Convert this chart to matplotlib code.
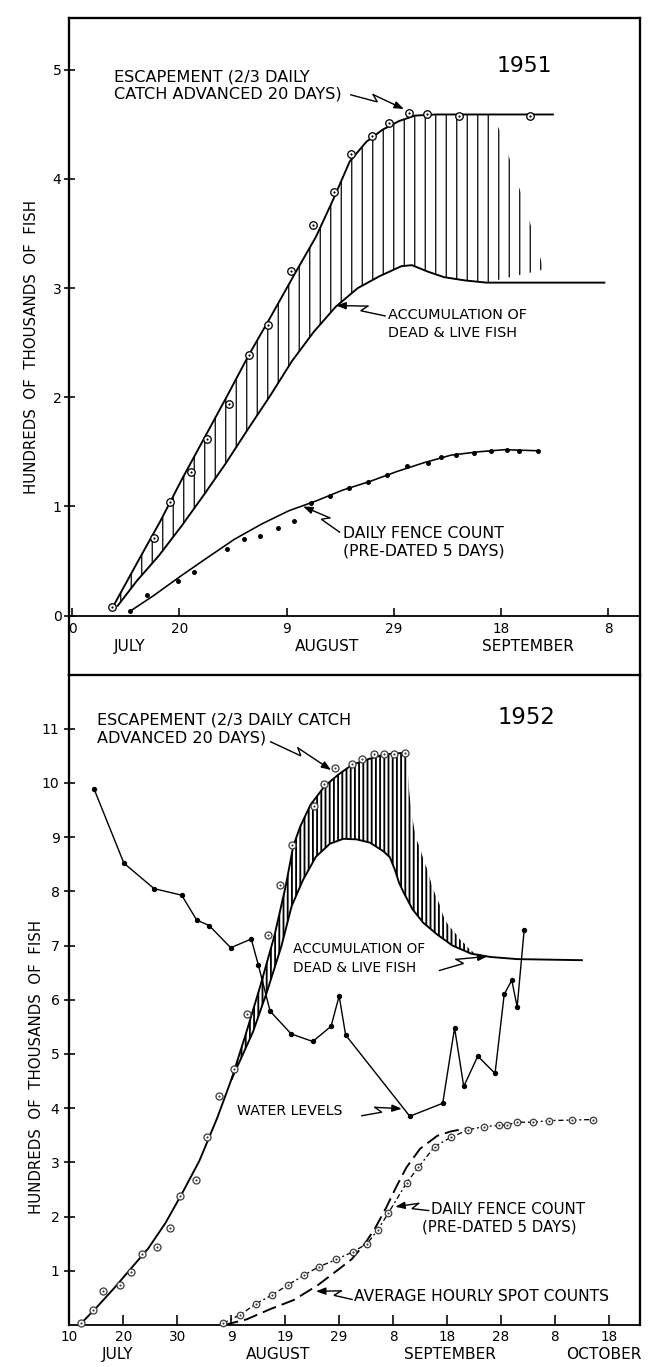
import numpy as np
import matplotlib
matplotlib.use("Agg")
import matplotlib.pyplot as plt
from matplotlib.patches import Polygon
from matplotlib.transforms import IdentityTransform

DPI = 126
W, H = 649, 1367


def pt(px):
    # pixel length -> points at the output resolution
    return px * 72.0 / DPI


plt.rcParams['font.family'] = ['DejaVu Sans']
plt.rcParams['hatch.color'] = 'black'

# All dates are days counted from 30 June.

# 1. Data - 1951
esc51_days = [7.5, 12.2, 16.4, 20.5, 24.7, 28.9, 33.0, 37.2, 41.3, 45.5, 48.7, 51.8,
              54.9, 57.9, 61.0, 64.0, 68.0, 89.7]
esc51_vals = [0.07, 0.49, 0.86, 1.25, 1.63, 2.01, 2.39, 2.75, 3.11, 3.47, 3.81, 4.16,
              4.34, 4.45, 4.53, 4.58, 4.59, 4.59]
esc51_obs_days = [7.5, 15.2, 18.2, 22.2, 25.2, 29.2, 33.0, 36.6, 40.8, 44.9, 48.8, 52.1,
                  55.9, 59.2, 62.9, 66.2, 72.2, 85.4]
esc51_obs_vals = [0.08, 0.71, 1.04, 1.32, 1.62, 1.94, 2.39, 2.66, 3.16, 3.58, 3.88, 4.23,
                  4.39, 4.51, 4.60, 4.59, 4.58, 4.58]
acc51_days = [8.5, 12.1, 16.2, 20.4, 24.5, 28.6, 32.7, 36.9, 41.0, 45.1, 49.2, 53.3,
              57.4, 61.4, 63.4, 66.4, 69.4, 73.3, 77.3, 99.3]
acc51_vals = [0.09, 0.32, 0.55, 0.82, 1.10, 1.39, 1.70, 2.01, 2.33, 2.60, 2.83, 3.00,
              3.11, 3.20, 3.21, 3.15, 3.10, 3.07, 3.05, 3.05]
tail51_days = [78.4, 80.3, 82.3, 84.3, 86.2, 88.0]
tail51_vals = [4.59, 4.39, 4.08, 3.79, 3.47, 3.17]
fence51_days = [10.8, 15.1, 20.2, 25.2, 30.3, 35.4, 40.4, 45.5, 50.5, 55.6, 60.6, 65.6,
                70.7, 75.7, 80.7, 87.0]
fence51_vals = [0.04, 0.18, 0.36, 0.53, 0.70, 0.84, 0.96, 1.05, 1.15, 1.23, 1.32, 1.40,
                1.47, 1.50, 1.52, 1.51]
fence51_obs_days = [10.8, 14.0, 19.8, 22.8, 28.9, 32.0, 35.1, 38.4, 41.4, 44.6, 48.2, 51.7,
                    55.2, 58.8, 62.4, 66.4, 68.8, 71.6, 75.0, 78.2, 81.1, 83.4, 87.0]
fence51_obs_vals = [0.04, 0.19, 0.32, 0.40, 0.61, 0.70, 0.73, 0.80, 0.87, 1.03, 1.10, 1.17,
                    1.22, 1.29, 1.37, 1.40, 1.45, 1.47, 1.49, 1.51, 1.52, 1.51, 1.51]

x51_ticks = [0, 20, 40, 60, 80, 100]
x51_labels = ['0', '20', '9', '29', '18', '8']
months51 = ['JULY', 'AUGUST', 'SEPTEMBER']
months51_at = [10.7, 47.5, 85.0]

# 2. Data - 1952
esc52_days = [11.9, 15.1, 18.3, 21.4, 24.6, 27.8, 30.9, 34.1, 37.4, 40.1, 42.8, 45.4,
              48.0, 50.1, 51.5, 52.8, 54.7, 57.3, 59.8, 62.3, 65.4, 68.5, 72.5]
esc52_vals = [0.0, 0.33, 0.68, 1.04, 1.41, 1.88, 2.43, 3.03, 3.82, 4.55, 5.40, 6.26,
              7.18, 8.10, 8.84, 9.20, 9.60, 9.94, 10.15, 10.33, 10.44, 10.53, 10.56]
esc52_obs_days = [12.2, 14.3, 16.3, 19.4, 21.4, 23.5, 26.3, 28.6, 30.5, 33.5, 35.5, 37.7,
                  40.6, 42.9, 46.9, 49.1, 51.2, 55.3, 57.2, 59.2, 62.4, 64.3, 66.4, 68.3,
                  70.2, 72.2]
esc52_obs_vals = [0.04, 0.28, 0.62, 0.74, 0.97, 1.30, 1.43, 1.78, 2.37, 2.68, 3.46, 4.22,
                  4.73, 5.74, 7.20, 8.12, 8.85, 9.57, 9.98, 10.28, 10.35, 10.45, 10.54, 10.53,
                  10.54, 10.55]
acc52_days = [40.1, 44.0, 46.6, 49.3, 51.2, 53.3, 55.7, 58.3, 60.8, 63.2, 65.7, 68.2,
              69.4, 70.4, 71.1, 72.0, 73.6, 75.6, 78.1, 81.0, 84.5, 88.0, 93.0, 105.0]
acc52_vals = [4.54, 5.40, 6.14, 6.99, 7.73, 8.21, 8.64, 8.88, 8.97, 8.96, 8.90, 8.74,
              8.63, 8.38, 8.16, 7.97, 7.67, 7.42, 7.21, 7.00, 6.85, 6.79, 6.75, 6.73]
tail52_days = [72.5, 73.0, 73.5, 74.2, 75.0, 75.7, 76.4, 77.1, 77.9, 78.7, 79.3, 80.1,
               80.9, 81.7, 82.3, 83.1, 83.8, 84.7, 85.4]
tail52_vals = [10.56, 9.83, 9.40, 9.00, 8.79, 8.57, 8.39, 8.14, 7.92, 7.74, 7.55, 7.40,
               7.30, 7.21, 7.12, 7.05, 6.97, 6.89, 6.85]
water52_days = [14.6, 20.1, 25.7, 30.8, 33.6, 35.9, 39.9, 43.7, 45.0, 47.2, 51.1, 55.1,
                58.5, 60.0, 61.2, 73.1, 79.2, 81.4, 83.1, 85.7, 88.9, 90.6, 92.0, 93.0, 94.3]
water52_vals = [9.88, 8.52, 8.05, 7.93, 7.47, 7.37, 6.96, 7.12, 6.65, 5.79, 5.37, 5.23,
                5.51, 6.07, 5.35, 3.85, 4.09, 5.48, 4.40, 4.96, 4.64, 6.10, 6.36, 5.87, 7.29]
fence52_days = [38.5, 41.7, 44.6, 47.5, 50.6, 53.5, 56.2, 59.5, 62.6, 65.2, 67.2, 69.1,
                72.5, 74.7, 77.7, 80.7, 83.9, 86.9, 89.6, 91.2, 92.9, 96.0, 98.9, 103.1, 107.1]
fence52_vals = [0.03, 0.19, 0.39, 0.55, 0.74, 0.92, 1.07, 1.21, 1.35, 1.50, 1.76, 2.06,
                2.62, 2.91, 3.29, 3.46, 3.60, 3.66, 3.68, 3.69, 3.74, 3.74, 3.77, 3.78, 3.79]
spot52_days = [38.7, 42.8, 47.2, 51.6, 56.0, 59.7, 62.3, 64.7, 66.7, 68.7, 70.6, 72.5,
               75.0, 78.2, 80.7, 83.8]
spot52_vals = [0.0, 0.10, 0.29, 0.46, 0.73, 1.01, 1.21, 1.49, 1.79, 2.16, 2.55, 2.91,
               3.25, 3.49, 3.57, 3.63]

x52_ticks = [10, 20, 30, 40, 50, 60, 70, 80, 90, 100, 110]
x52_labels = ['10', '20', '30', '9', '19', '29', '8', '18', '28', '8', '18']
months52 = ['JULY', 'AUGUST', 'SEPTEMBER', 'OCTOBER']
months52_at = [19.0, 48.7, 80.6, 109.1]

YLABEL = 'HUNDREDS  OF  THOUSANDS  OF  FISH'


# 3. Helpers
def box(left, top, right, bottom):
    return [left / W, 1 - bottom / H, (right - left) / W, (bottom - top) / H]


def shade(ax, up_d, up_v, tail_d, tail_v, lo_d, lo_v, hatch, hlw):
    # hatched band between the escapement and the accumulation curves
    top = [(d, v) for d, v in zip(up_d, up_v) if lo_d[0] - 1.5 <= d < tail_d[0]]
    top += list(zip(tail_d, tail_v))
    bot = [(d, v) for d, v in zip(lo_d, lo_v) if d <= tail_d[-1]]
    with plt.rc_context({'hatch.linewidth': hlw}):
        poly = Polygon(top + bot[::-1], closed=True, facecolor='none',
                       edgecolor='k', lw=0, hatch=hatch, zorder=1)
    if hasattr(poly, 'set_hatch_linewidth'):
        poly.set_hatch_linewidth(hlw)
    ax.add_patch(poly)


def bolt(ax, start, end, back=6.0, lift=6.0):
    # "Z" kinked pointer ending in an arrow head
    p0 = ax.transData.transform(start)
    p3 = ax.transData.transform(end)
    d = p3 - p0
    length = np.hypot(d[0], d[1])
    u = d / length
    n = np.array([-u[1], u[0]])
    if n[1] < 0:
        n = -n
    p1 = p0 + u * length * 0.5
    p2 = p1 - u * back + n * lift
    ax.plot([p0[0], p1[0], p2[0]], [p0[1], p1[1], p2[1]], color='k', lw=pt(1.4),
            transform=IdentityTransform(), clip_on=False, solid_joinstyle='miter')
    ax.annotate('', xy=p3, xytext=p2, xycoords='figure pixels', textcoords='figure pixels',
                arrowprops=dict(arrowstyle='-|>,head_length=0.45,head_width=0.17',
                                color='k', lw=pt(1.4), shrinkA=0, shrinkB=0,
                                mutation_scale=10))


def circles(ax, x, y, size, edge):
    ax.plot(x, y, ls='none', marker='o', ms=pt(size), mfc='white', mec=edge,
            mew=pt(1.3), zorder=4, clip_on=False)
    ax.plot(x, y, ls='none', marker='o', ms=pt(2.2), color=edge, mew=0, zorder=5,
            clip_on=False)


# 4. Figure and panels
fig = plt.figure(figsize=(W / DPI, H / DPI), dpi=DPI)
fig.patch.set_facecolor('white')

ax1 = fig.add_axes(box(69, 18.4, 639.5, 674.6))
ax2 = fig.add_axes(box(69, 674.6, 639.5, 1324.9))
ax1.set_xlim(-0.58, 105.86)
ax1.set_ylim(-0.54, 5.47)
ax2.set_xlim(9.92, 115.68)
ax2.set_ylim(0, 12.0)

for ax in (ax1, ax2):
    for s in ax.spines.values():
        s.set_linewidth(pt(2.3))
    ax.set_facecolor('none')
ax1.spines['bottom'].set_position(('data', 0))
ax1.spines['bottom'].set_linewidth(pt(1.8))
ax2.spines['bottom'].set_linewidth(pt(1.8))

# 5. 1951 panel
shade(ax1, esc51_days, esc51_vals, tail51_days, tail51_vals,
      acc51_days, acc51_vals, '||', 0.7)
ax1.plot(esc51_days, esc51_vals, color='k', lw=pt(1.9), zorder=3)
ax1.plot(acc51_days, acc51_vals, color='k', lw=pt(1.9), zorder=3)
circles(ax1, esc51_obs_days, esc51_obs_vals, 7.5, 'k')
ax1.plot(fence51_days, fence51_vals, color='k', lw=pt(1.6), zorder=3)
ax1.plot(fence51_obs_days, fence51_obs_vals, ls='none', marker='o', ms=pt(3.2),
         color='k', zorder=4)

ax1.set_xticks(x51_ticks, x51_labels)
ax1.set_yticks(range(6))
ax1.tick_params(axis='x', direction='in', length=pt(8), width=pt(1.6), pad=pt(6),
                labelsize=7.8)
ax1.tick_params(axis='y', direction='inout', length=pt(11), width=pt(1.6), pad=pt(2),
                labelsize=8)
for name, d in zip(months51, months51_at):
    ax1.text(d, -0.287, name, ha='center', va='center', fontsize=8.8)

ax1.text(84.3, 5.03, '1951', ha='center', va='center', fontsize=12.5)
ax1.text(7.8, 4.855, 'ESCAPEMENT (2/3 DAILY\nCATCH ADVANCED 20 DAYS)', ha='left',
         va='center', fontsize=9.2, linespacing=1.2)
bolt(ax1, (52.0, 4.77), (61.9, 4.64))
ax1.text(58.9, 2.67, 'ACCUMULATION OF\nDEAD & LIVE FISH', ha='left', va='center',
         fontsize=8.2, linespacing=1.4)
bolt(ax1, (58.4, 2.745), (49.3, 2.84))
ax1.text(50.5, 0.67, 'DAILY FENCE COUNT\n(PRE-DATED 5 DAYS)', ha='left', va='center',
         fontsize=9.0, linespacing=1.2)
bolt(ax1, (49.9, 0.765), (43.1, 1.0))

# 6. 1952 panel
shade(ax2, esc52_days, esc52_vals, tail52_days, tail52_vals,
      acc52_days, acc52_vals, '|||||', 1.05)
ax2.plot(esc52_days, esc52_vals, color='k', lw=pt(1.9), zorder=3)
ax2.plot(acc52_days, acc52_vals, color='k', lw=pt(1.9), zorder=3)
circles(ax2, esc52_obs_days, esc52_obs_vals, 7.0, '0.25')
ax2.plot(water52_days, water52_vals, color='k', lw=pt(1.4), marker='o', ms=pt(3.6),
         zorder=3)
ax2.plot(spot52_days, spot52_vals, color='k', lw=pt(1.9), ls=(0, (7.5, 3.2)), zorder=3)
ax2.plot(fence52_days, fence52_vals, color='k', lw=pt(1.3), ls=(0, (4, 2.2, 1.5, 2.2)),
         zorder=3)
circles(ax2, fence52_days, fence52_vals, 6.5, '0.25')

ax2.set_xticks(x52_ticks, x52_labels)
ax2.set_yticks(range(1, 12))
ax2.tick_params(axis='x', direction='in', length=pt(10), width=pt(1.6), pad=pt(5),
                labelsize=7.8)
ax2.tick_params(axis='y', direction='inout', length=pt(11), width=pt(1.6), pad=pt(4),
                labelsize=8)
for name, d in zip(months52, months52_at):
    ax2.text(d, -0.555, name, ha='center', va='center', fontsize=8.8)

ax2.text(94.7, 11.2, '1952', ha='center', va='center', fontsize=13)
ax2.text(15.1, 11.0, 'ESCAPEMENT (2/3 DAILY CATCH\nADVANCED 20 DAYS)', ha='left',
         va='center', fontsize=9.2, linespacing=1.23)
bolt(ax2, (47.3, 10.76), (58.5, 10.24))
ax2.text(51.5, 6.76, 'ACCUMULATION OF\nDEAD & LIVE FISH', ha='left', va='center',
         fontsize=7.8, linespacing=1.4)
bolt(ax2, (78.6, 6.54), (87.5, 6.80))
ax2.text(41.0, 3.94, 'WATER LEVELS', ha='left', va='center', fontsize=8.1)
bolt(ax2, (64.2, 3.86), (71.6, 3.99))
ax2.text(77.1, 2.13, 'DAILY FENCE COUNT', ha='left', va='center', fontsize=8.6)
ax2.text(75.4, 1.80, '(PRE-DATED 5 DAYS)', ha='left', va='center', fontsize=8.6)
bolt(ax2, (76.6, 2.11), (70.4, 2.18))
ax2.text(62.8, 0.53, 'AVERAGE HOURLY SPOT COUNTS', ha='left', va='center', fontsize=8.9)
bolt(ax2, (62.4, 0.47), (55.7, 0.62))

# 7. Axis titles
fig.text(31.9 / W, 1 - 346.7 / H, YLABEL, rotation=90, ha='center', va='center',
         fontsize=8.6)
fig.text(36.8 / W, 1 - 1067.1 / H, YLABEL, rotation=90, ha='center', va='center',
         fontsize=8.6)

fig.savefig('out.png', dpi=DPI, facecolor='white')
